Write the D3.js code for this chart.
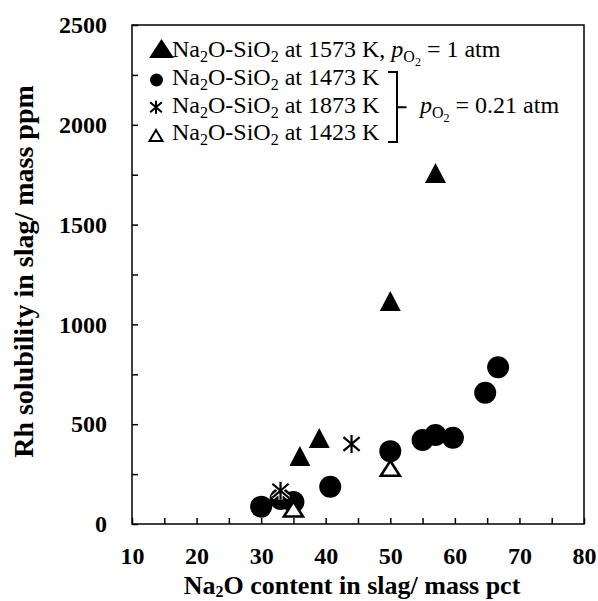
<!DOCTYPE html>
<html>
<head>
<meta charset="utf-8">
<script src="https://cdn.jsdelivr.net/npm/d3@7"></script>
<style>
  body { margin: 0; background: #fff; }
  svg text { font-family: "Liberation Serif", "Times New Roman", serif; fill: #000; }
</style>
</head>
<body>
<svg id="chart" width="598" height="601"></svg>
<script>
// Axis ticks
const xMajorTicks = [10, 20, 30, 40, 50, 60, 70, 80];
const xMinorTicks = [15, 25, 35, 45, 55, 65, 75];
const yMajorTicks = [0, 500, 1000, 1500, 2000, 2500];
const yMinorTicks = [250, 750, 1250, 1750, 2250];

// Na2O-SiO2 at 1573 K, pO2 = 1 atm
const s1573X = [36, 39, 50, 57];
const s1573Y = [341, 431, 1117, 1759];
// Na2O-SiO2 at 1473 K, pO2 = 0.21 atm
const s1473X = [30, 33, 35, 40.7, 50, 55, 57, 59.7, 64.7, 66.7];
const s1473Y = [87, 125, 110, 187, 365, 421, 446, 432, 658, 785];
// Na2O-SiO2 at 1873 K, pO2 = 0.21 atm
const s1873X = [33, 44];
const s1873Y = [167, 401];
// Na2O-SiO2 at 1423 K, pO2 = 0.21 atm
const s1423X = [35, 50];
const s1423Y = [75, 279];

const svg = d3.select("#chart");
const pL = 132, pR = 584, pT = 25, pB = 524;
const serif = "'Liberation Serif', 'Times New Roman', serif";

const x = d3.scaleLinear().domain([10, 80]).range([pL, pR]);
const y = d3.scaleLinear().domain([0, 2500]).range([pB, pT]);

// x axis (ticks point inward)
const xAxis = d3.axisBottom(x)
  .tickValues(xMajorTicks.concat(xMinorTicks))
  .tickSize(-6).tickSizeOuter(0).tickPadding(23)
  .tickFormat(d => xMajorTicks.includes(d) ? d : "");
const gx = svg.append("g").attr("transform", `translate(0,${pB})`).call(xAxis);
gx.select(".domain").remove();
gx.selectAll("line").attr("stroke", "#000").attr("stroke-width", 1.5);
gx.selectAll("text").attr("font-family", serif).attr("font-weight", "bold")
  .attr("font-size", 24).attr("fill", "#000");

// y axis
const yAxis = d3.axisLeft(y)
  .tickValues(yMajorTicks.concat(yMinorTicks))
  .tickSize(-6).tickSizeOuter(0).tickPadding(25)
  .tickFormat(d => yMajorTicks.includes(d) ? d : "");
const gy = svg.append("g").attr("transform", `translate(${pL},0)`).call(yAxis);
gy.select(".domain").remove();
gy.selectAll("line").attr("stroke", "#000").attr("stroke-width", 1.5);
gy.selectAll("text").attr("font-family", serif).attr("font-weight", "bold")
  .attr("font-size", 24).attr("fill", "#000");

// plot frame
svg.append("rect")
  .attr("x", pL).attr("y", pT)
  .attr("width", pR - pL).attr("height", pB - pT)
  .attr("fill", "none").attr("stroke", "#000").attr("stroke-width", 1.5);

// axis titles
const xt = svg.append("text")
  .attr("x", (pL + pR) / 2 - 6).attr("y", 594)
  .attr("text-anchor", "middle")
  .attr("font-family", serif).attr("font-weight", "bold").attr("font-size", 26);
xt.append("tspan").text("Na");
xt.append("tspan").attr("dy", 3).attr("font-size", 16).text("2");
xt.append("tspan").attr("dy", -3).text("O content in slag/ mass pct");

svg.append("text")
  .attr("transform", `translate(33,${(pT + pB) / 2 - 3}) rotate(-90)`)
  .attr("text-anchor", "middle")
  .attr("font-family", serif).attr("font-weight", "bold").attr("font-size", 28)
  .text("Rh solubility in slag/ mass ppm");

// marker shapes
const triPath = (w, h) => `M0,${-h / 2}L${w / 2},${h / 2}L${-w / 2},${h / 2}Z`;
function star(g, size, sw) {
  const h = size / 2, d = size * 0.45;
  const p = `M0,${-h}V${h}M${-d},${-d * 0.85}L${d},${d * 0.85}M${-d},${d * 0.85}L${d},${-d * 0.85}`;
  g.append("path").attr("d", p).attr("stroke", "#fff").attr("stroke-width", sw + 2).attr("fill", "none");
  g.append("path").attr("d", p).attr("stroke", "#000").attr("stroke-width", sw).attr("fill", "none");
}

const pts = (xs, ys) => xs.map((v, i) => ({ x: v, y: ys[i] }));

// 1473 K circles
svg.append("g").selectAll("circle").data(pts(s1473X, s1473Y)).join("circle")
  .attr("cx", d => x(d.x)).attr("cy", d => y(d.y)).attr("r", 11).attr("fill", "#000");

// 1873 K stars
svg.append("g").selectAll("g").data(pts(s1873X, s1873Y)).join("g")
  .attr("transform", d => `translate(${x(d.x)},${y(d.y)})`)
  .each(function () { star(d3.select(this), 18, 2.2); });

// 1573 K filled triangles
svg.append("g").selectAll("path").data(pts(s1573X, s1573Y)).join("path")
  .attr("transform", d => `translate(${x(d.x)},${y(d.y)})`)
  .attr("d", triPath(21, 20)).attr("fill", "#000");

// 1423 K open triangles
svg.append("g").selectAll("path").data(pts(s1423X, s1423Y)).join("path")
  .attr("transform", d => `translate(${x(d.x)},${y(d.y)})`)
  .attr("d", triPath(19, 15)).attr("fill", "#fff")
  .attr("stroke", "#000").attr("stroke-width", 2.6).attr("stroke-linejoin", "miter");

// legend
const legFont = 24;
const leg = svg.append("g");
function naSi(t) {
  t.append("tspan").text("Na");
  t.append("tspan").attr("dy", 5).attr("font-size", 16).text("2");
  t.append("tspan").attr("dy", -5).text("O-SiO");
  t.append("tspan").attr("dy", 5).attr("font-size", 16).text("2");
}
function pO2(t) {
  t.append("tspan").attr("font-style", "italic").text("p");
  t.append("tspan").attr("dy", 5).attr("font-size", 16).text("O");
  t.append("tspan").attr("dy", 4).attr("font-size", 12).text("2");
}
const rows = [
  { y: 57, label: " at 1573 K, " },
  { y: 85, label: " at 1473 K" },
  { y: 112.7, label: " at 1873 K" },
  { y: 140, label: " at 1423 K" }
];
rows.forEach((r, i) => {
  const t = leg.append("text").attr("x", 172).attr("y", r.y)
    .attr("font-family", serif).attr("font-size", legFont);
  naSi(t);
  t.append("tspan").attr("dy", -5).text(r.label);
  if (i === 0) {
    pO2(t);
    t.append("tspan").attr("dy", -9).text(" = 1 atm");
  }
});
leg.append("path").attr("transform", "translate(161.5,48.5)").attr("d", triPath(25, 19)).attr("fill", "#000");
leg.append("circle").attr("cx", 156.5).attr("cy", 80).attr("r", 6.5).attr("fill", "#000");
star(leg.append("g").attr("transform", "translate(156,107.3)"), 13, 2);
leg.append("path").attr("transform", "translate(156,135.5)").attr("d", triPath(13, 11))
  .attr("fill", "#fff").attr("stroke", "#000").attr("stroke-width", 2);

// bracket grouping the 0.21 atm series
leg.append("path")
  .attr("d", "M388,72H397V142H388M397,107.3H406.5")
  .attr("fill", "none").attr("stroke", "#000").attr("stroke-width", 2);
const p21 = leg.append("text").attr("x", 420).attr("y", 112.7)
  .attr("font-family", serif).attr("font-size", legFont);
pO2(p21);
p21.append("tspan").attr("dy", -9).text(" = 0.21 atm");
</script>
</body>
</html>
